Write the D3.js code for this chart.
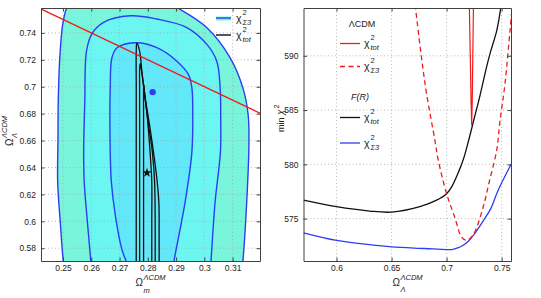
<!DOCTYPE html>
<html><head><meta charset="utf-8">
<script src="https://cdn.jsdelivr.net/npm/d3@7"></script>
<style>body{margin:0;background:#fff}svg{display:block;font-family:"Liberation Sans",Arial,Helvetica,sans-serif}</style>
</head><body><script>
// ---------- data ----------
const leftXTicks = [0.25, 0.26, 0.27, 0.28, 0.29, 0.30, 0.31];
const leftYTicks = [0.58, 0.60, 0.62, 0.64, 0.66, 0.68, 0.70, 0.72, 0.74];
const rightXTicks = [0.6, 0.65, 0.7, 0.75];
const rightYTicks = [575, 580, 585, 590];

// chi2_Sigma3 confidence contours (Omega_m, Omega_Lambda)
const sigma3Contour3 = [[0.2510,0.560],[0.2502,0.5685],[0.2490,0.600],[0.2481,0.629],[0.2482,0.660],[0.2483,0.689],[0.2490,0.7265],[0.2501,0.749],[0.2522,0.762],[0.262,0.773],[0.278,0.772],[0.2904,0.7587],[0.3010,0.7437],[0.3092,0.7213],[0.3137,0.6988],[0.3155,0.6794],[0.3158,0.6591],[0.3150,0.6142],[0.3136,0.5685],[0.3132,0.560]];
const sigma3Contour2 = [[0.2602,0.560],[0.2599,0.5685],[0.2586,0.600],[0.2575,0.629],[0.2573,0.652],[0.2577,0.689],[0.2583,0.7265],[0.2602,0.7393],[0.2642,0.7477],[0.2738,0.7527],[0.2832,0.7503],[0.2938,0.744],[0.3009,0.7315],[0.3044,0.719],[0.3056,0.699],[0.3058,0.6766],[0.3057,0.6516],[0.3038,0.6142],[0.3023,0.5685],[0.3020,0.560]];
const sigma3Contour1 = [[0.2732,0.560],[0.2726,0.5685],[0.2708,0.5792],[0.2685,0.6044],[0.2671,0.629],[0.2667,0.6516],[0.2667,0.699],[0.2673,0.7215],[0.2691,0.729],[0.2761,0.7327],[0.2832,0.729],[0.2903,0.719],[0.2944,0.709],[0.2956,0.699],[0.2959,0.6816],[0.2956,0.6516],[0.2932,0.6142],[0.2891,0.5685],[0.2886,0.560]];
// chi2_tot contours
const totContour3 = [[0.2759,0.560],[0.2759,0.700],[0.2759,0.726],[0.2761,0.7323],[0.2771,0.7265],[0.2779,0.7115],[0.2791,0.6915],[0.2806,0.6716],[0.2820,0.6516],[0.2832,0.6316],[0.2839,0.6142],[0.2840,0.590],[0.2840,0.560]];
const totContour2 = [[0.2771,0.560],[0.2771,0.700],[0.2771,0.713],[0.2773,0.7173],[0.2778,0.7115],[0.2787,0.6966],[0.2801,0.6741],[0.2816,0.6516],[0.2824,0.6291],[0.2826,0.600],[0.2826,0.560]];
const totContour1 = [[0.2785,0.560],[0.2785,0.680],[0.2785,0.6985],[0.2786,0.7016],[0.2788,0.6966],[0.2798,0.6778],[0.2808,0.6516],[0.2814,0.6291],[0.2814,0.600],[0.2814,0.560]];
const flatOmegaM = [0.235, 0.325];           // flat universe: Omega_Lambda = 1 - Omega_m
const bestFitDot = [0.2817, 0.6960];
const bestFitStar = [0.2797, 0.6361];

// right panel: min chi2 vs Omega_Lambda
const frTotOmega = [0.57,0.60,0.63,0.65,0.6757,0.6909,0.70,0.705,0.71,0.715,0.72,0.725,0.73,0.7364,0.74,0.7455,0.7495];
const frTotChi2  = [576.7,576.1,575.7,575.6,576.1,576.7,577.3,578.0,579.1,580.4,582.2,584.2,586.2,589.0,590.4,592.3,594.6];
const frS3Omega = [0.57,0.60,0.63,0.65,0.68,0.70,0.705,0.71,0.715,0.72,0.725,0.7333,0.74,0.7455,0.75,0.7585];
const frS3Chi2  = [573.7,573.0,572.6,572.4,572.25,572.15,572.15,572.3,572.55,572.95,573.55,574.8,575.9,577.3,578.3,580.0];
const lcdmS3Omega = [0.6705,0.677,0.6818,0.6894,0.6924,0.70,0.7075,0.7136,0.718,0.7215,0.7257,0.7333,0.739,0.7455,0.7485,0.753,0.7576,0.7605];
const lcdmS3Chi2  = [595.5,590.0,586.5,582.2,580.4,577.3,575.1,573.3,573.0,573.2,573.8,576.1,578.5,581.3,584.0,587.4,592.3,595.5];
const lcdmTotOmega = [0.7205,0.7215,0.7222,0.7228,0.7233,0.7238,0.7245];
const lcdmTotChi2  = [595.5,590.0,586.0,583.6,586.0,590.0,595.5];

// ---------- drawing ----------
const W = 541, H = 298;
const svg = d3.select("body").append("svg").attr("width", W).attr("height", H);
const fmt = d => String(+d.toFixed(2));
const cBand3 = "#78f5da", cBand2 = "#6cf6f2", cBand1 = "#62e8f8";
const cBlue = "#2a3ff2", cRed = "#f01a1a";

const xL = d3.scaleLinear().domain([0.2422, 0.3197]).range([41, 260]);
const yL = d3.scaleLinear().domain([0.5705, 0.7585]).range([261, 8]);
const xR = d3.scaleLinear().domain([0.57, 0.7585]).range([303.5, 511]);
const yR = d3.scaleLinear().domain([571.1, 594.4]).range([261, 8]);

const defs = svg.append("defs");
function clip(id, x, y) {
  defs.append("clipPath").attr("id", id).append("rect")
    .attr("x", x.range()[0]).attr("y", y.range()[1])
    .attr("width", x.range()[1] - x.range()[0]).attr("height", y.range()[0] - y.range()[1]);
}
clip("cl", xL, yL); clip("cr", xR, yR);

function grid(g, x, y, xt, yt) {
  g.selectAll(".gx").data(xt).join("line")
    .attr("x1", d => x(d)).attr("x2", d => x(d)).attr("y1", y.range()[0]).attr("y2", y.range()[1])
    .attr("stroke", "#a8a8a8").attr("stroke-width", 0.8).attr("stroke-dasharray", "1,2.5");
  g.selectAll(".gy").data(yt).join("line")
    .attr("y1", d => y(d)).attr("y2", d => y(d)).attr("x1", x.range()[0]).attr("x2", x.range()[1])
    .attr("stroke", "#a8a8a8").attr("stroke-width", 0.8).attr("stroke-dasharray", "1,2.5");
}
function axes(x, y, xt, yt) {
  const [x0, x1] = x.range(), [y0, y1] = [y.range()[1], y.range()[0]];
  const style = g => {
    g.selectAll("path.domain").attr("stroke", "#404040");
    g.selectAll(".tick line").attr("stroke", "#404040");
    g.selectAll("text").attr("font-size", "8.5px").attr("fill", "#222").attr("font-family", '"Liberation Sans",Arial,sans-serif');
  };
  svg.append("g").attr("transform", `translate(0,${y1})`)
    .call(d3.axisBottom(x).tickValues(xt).tickFormat(fmt).tickSizeInner(-3.5).tickSizeOuter(0).tickPadding(4)).call(style);
  svg.append("g").attr("transform", `translate(0,${y0})`)
    .call(d3.axisTop(x).tickValues(xt).tickFormat("").tickSizeInner(-3.5).tickSizeOuter(0)).call(style);
  svg.append("g").attr("transform", `translate(${x0},0)`)
    .call(d3.axisLeft(y).tickValues(yt).tickFormat(fmt).tickSizeInner(-3.5).tickSizeOuter(0).tickPadding(5)).call(style);
  svg.append("g").attr("transform", `translate(${x1},0)`)
    .call(d3.axisRight(y).tickValues(yt).tickFormat("").tickSizeInner(-3.5).tickSizeOuter(0)).call(style);
}
function chi(g, x, yb, sub) {
  g.append("text").attr("x", x).attr("y", yb).attr("font-size", "10.5px").text("χ");
  g.append("text").attr("x", x + 6.5).attr("y", yb - 7).attr("font-size", "7.5px").text("2");
  g.append("text").attr("x", x + 6.5).attr("y", yb + 2.5).attr("font-size", "7.5px").attr("font-style", "italic").text(sub);
}

// ----- left panel -----
const lineL = d3.line().x(d => xL(d[0])).y(d => yL(d[1])).curve(d3.curveCatmullRom.alpha(0.5));
const gl = svg.append("g").attr("clip-path", "url(#cl)");
gl.append("path").attr("d", lineL(sigma3Contour3)).attr("fill", cBand3);
gl.append("path").attr("d", lineL(sigma3Contour2)).attr("fill", cBand2);
gl.append("path").attr("d", lineL(sigma3Contour1)).attr("fill", cBand1);
grid(gl, xL, yL, leftXTicks, leftYTicks);
[sigma3Contour3, sigma3Contour2, sigma3Contour1].forEach(c =>
  gl.append("path").attr("d", lineL(c)).attr("fill", "none").attr("stroke", cBlue).attr("stroke-width", 1.4));
[totContour3, totContour2, totContour1].forEach(c =>
  gl.append("path").attr("d", lineL(c))
    .attr("fill", "none").attr("stroke", "#111").attr("stroke-width", 1.3));
gl.append("line").attr("x1", xL(flatOmegaM[0])).attr("y1", yL(1 - flatOmegaM[0]))
  .attr("x2", xL(flatOmegaM[1])).attr("y2", yL(1 - flatOmegaM[1])).attr("stroke", cRed).attr("stroke-width", 1.3);
gl.append("circle").attr("cx", xL(bestFitDot[0])).attr("cy", yL(bestFitDot[1])).attr("r", 3.2).attr("fill", "#2a3ff2");
gl.append("path").attr("d", d3.symbol(d3.symbolStar, 28)()).attr("transform", `translate(${xL(bestFitStar[0])},${yL(bestFitStar[1])})`).attr("fill", "#111");
axes(xL, yL, leftXTicks, leftYTicks);

// left legend
const lg = svg.append("g").attr("fill", "#222");
lg.append("rect").attr("x", 216).attr("y", 16.5).attr("width", 15).attr("height", 4).attr("fill", cBand3);
lg.append("line").attr("x1", 216).attr("x2", 231).attr("y1", 18).attr("y2", 18).attr("stroke", cBlue).attr("stroke-width", 1.4);
chi(lg, 236, 22, "Σ3");
lg.append("line").attr("x1", 216).attr("x2", 231).attr("y1", 35).attr("y2", 35).attr("stroke", "#111").attr("stroke-width", 1.4);
chi(lg, 236, 39, "tot");

// left axis labels
const lx = svg.append("g").attr("fill", "#222");
lx.append("text").attr("x", 135.5).attr("y", 285.5).attr("font-size", "10px").text("Ω");
lx.append("text").attr("x", 143.5).attr("y", 280).attr("font-size", "7.5px").attr("font-style", "italic").text("ΛCDM");
lx.append("text").attr("x", 143.5).attr("y", 293).attr("font-size", "7.5px").attr("font-style", "italic").text("m");
const ly = svg.append("g").attr("fill", "#222").attr("transform", "translate(13,146) rotate(-90)");
ly.append("text").attr("x", 0).attr("y", 0).attr("font-size", "10px").text("Ω");
ly.append("text").attr("x", 8).attr("y", -6).attr("font-size", "7.5px").attr("font-style", "italic").text("ΛCDM");
ly.append("text").attr("x", 8).attr("y", 4).attr("font-size", "7.5px").attr("font-style", "italic").text("Λ");

// ----- right panel -----
const gr = svg.append("g").attr("clip-path", "url(#cr)");
grid(gr, xR, yR, rightXTicks, rightYTicks);
const lineR = d3.line().x(d => xR(d[0])).y(d => yR(d[1])).curve(d3.curveCatmullRom.alpha(0.5));
const zip = (a, b) => a.map((v, i) => [v, b[i]]);
gr.append("path").attr("d", lineR(zip(frS3Omega, frS3Chi2))).attr("fill", "none").attr("stroke", cBlue).attr("stroke-width", 1.3);
gr.append("path").attr("d", lineR(zip(frTotOmega, frTotChi2))).attr("fill", "none").attr("stroke", "#111").attr("stroke-width", 1.3);
gr.append("path").attr("d", lineR(zip(lcdmS3Omega, lcdmS3Chi2))).attr("fill", "none").attr("stroke", cRed).attr("stroke-width", 1.3).attr("stroke-dasharray", "5,3.5");
gr.append("path").attr("d", d3.line().x(d => xR(d[0])).y(d => yR(d[1]))(zip(lcdmTotOmega, lcdmTotChi2))).attr("fill", "none").attr("stroke", cRed).attr("stroke-width", 1.2);
axes(xR, yR, rightXTicks, rightYTicks);

// right legend
const rg = svg.append("g").attr("fill", "#222");
rg.append("text").attr("x", 362).attr("y", 27).attr("text-anchor", "middle").attr("font-size", "9px").text("ΛCDM");
rg.append("line").attr("x1", 340).attr("x2", 360).attr("y1", 43.5).attr("y2", 43.5).attr("stroke", cRed).attr("stroke-width", 1.3);
chi(rg, 364, 47, "tot");
rg.append("line").attr("x1", 340).attr("x2", 360).attr("y1", 66.5).attr("y2", 66.5).attr("stroke", cRed).attr("stroke-width", 1.3).attr("stroke-dasharray", "5,3.5");
chi(rg, 364, 70, "Σ3");
rg.append("text").attr("x", 360).attr("y", 100).attr("text-anchor", "middle").attr("font-size", "9px").attr("font-style", "italic").text("F(R)");
rg.append("line").attr("x1", 340).attr("x2", 360).attr("y1", 117.5).attr("y2", 117.5).attr("stroke", "#111").attr("stroke-width", 1.3);
chi(rg, 364, 121, "tot");
rg.append("line").attr("x1", 340).attr("x2", 360).attr("y1", 143).attr("y2", 143).attr("stroke", cBlue).attr("stroke-width", 1.3);
chi(rg, 364, 147, "Σ3");

// right axis labels
const rx = svg.append("g").attr("fill", "#222");
rx.append("text").attr("x", 392.5).attr("y", 285.5).attr("font-size", "10px").text("Ω");
rx.append("text").attr("x", 400.5).attr("y", 280).attr("font-size", "7.5px").attr("font-style", "italic").text("ΛCDM");
rx.append("text").attr("x", 400.5).attr("y", 292).attr("font-size", "7.5px").attr("font-style", "italic").text("Λ");
const ry = svg.append("g").attr("fill", "#222").attr("transform", "translate(284,132) rotate(-90)");
ry.append("text").attr("x", 0).attr("y", 0).attr("font-size", "9px").text("min");
ry.append("text").attr("x", 17).attr("y", 0).attr("font-size", "10px").attr("font-style", "italic").text("χ");
ry.append("text").attr("x", 23.5).attr("y", -5).attr("font-size", "7px").text("2");
</script></body></html>
